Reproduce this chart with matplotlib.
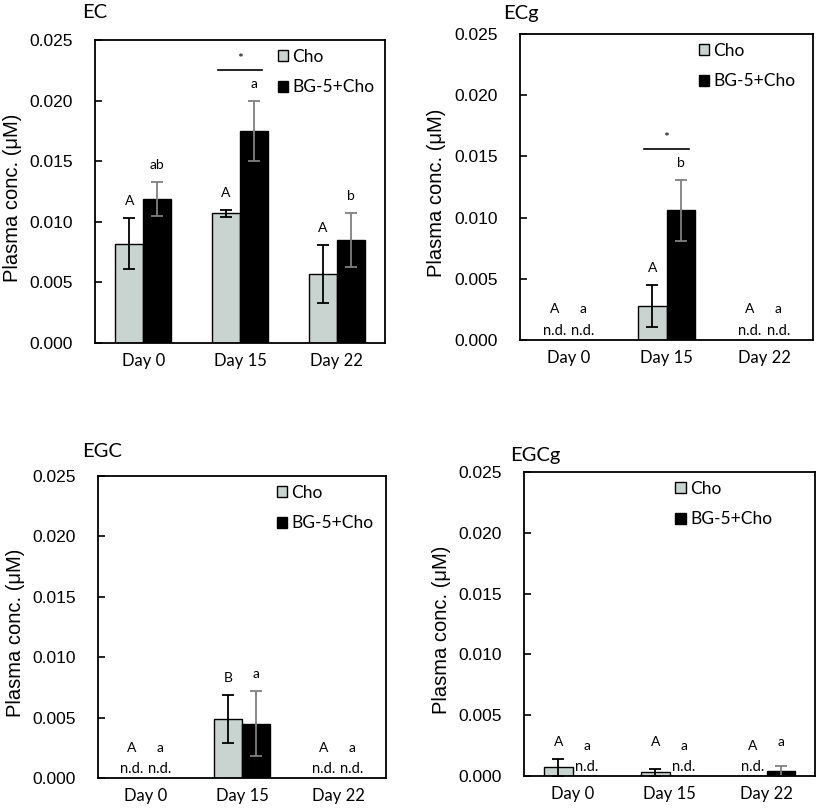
import numpy as np
import matplotlib.pyplot as plt

days = ["Day 0", "Day 15", "Day 22"]
series = ["Cho", "BG-5+Cho"]

# EC
ec_cho = [0.0082, 0.0107, 0.0057]
ec_cho_err = [0.0021, 0.0003, 0.0024]
ec_bg = [0.0119, 0.0175, 0.0085]
ec_bg_err = [0.0014, 0.0025, 0.0022]
ec_cho_let = ["A", "A", "A"]
ec_bg_let = ["ab", "a", "b"]

# ECg
ecg_cho = [0.0, 0.0028, 0.0]
ecg_cho_err = [0.0, 0.0017, 0.0]
ecg_bg = [0.0, 0.0106, 0.0]
ecg_bg_err = [0.0, 0.0025, 0.0]
ecg_cho_let = ["A", "A", "A"]
ecg_bg_let = ["a", "b", "a"]

# EGC
egc_cho = [0.0, 0.0049, 0.0]
egc_cho_err = [0.0, 0.0020, 0.0]
egc_bg = [0.0, 0.0045, 0.0]
egc_bg_err = [0.0, 0.0027, 0.0]
egc_cho_let = ["A", "B", "A"]
egc_bg_let = ["a", "a", "a"]

# EGCg
egcg_cho = [0.0007, 0.0003, 0.0]
egcg_cho_err = [0.0007, 0.0003, 0.0]
egcg_bg = [0.0, 0.0, 0.00044]
egcg_bg_err = [0.0, 0.0, 0.0004]
egcg_cho_let = ["A", "A", "A"]
egcg_bg_let = ["a", "a", "a"]

# not detected flags (True = n.d.)
ec_nd = [[False] * 3, [False] * 3]
ecg_nd = [[True, False, True], [True, False, True]]
egc_nd = [[True, False, True], [True, False, True]]
egcg_nd = [[False, False, True], [True, True, False]]

# significance (day index, y)
ec_sig = (1, 0.0225)
ecg_sig = (1, 0.0156)

W, H = 817, 809
fig = plt.figure(figsize=(W / 100, H / 100), dpi=100)
cho_color = "#C9D3D0"
bg_color = "black"
txt_font = "Lato"
num_font = "Liberation Sans"

# name, axes box (px: left, top, width, height), title pos (px), legend x (axes frac)
panels = [
    ("EC", (95, 40, 290, 303), (82, 13), 0.60, ec_cho, ec_cho_err, ec_bg, ec_bg_err,
     ec_cho_let, ec_bg_let, ec_nd, ec_sig),
    ("ECg", (520, 34, 293, 306), (503, 13), 0.58, ecg_cho, ecg_cho_err, ecg_bg, ecg_bg_err,
     ecg_cho_let, ecg_bg_let, ecg_nd, ecg_sig),
    ("EGC", (98, 476, 288, 302), (82, 452), 0.59, egc_cho, egc_cho_err, egc_bg, egc_bg_err,
     egc_cho_let, egc_bg_let, egc_nd, None),
    ("EGCg", (524, 472, 291, 304), (510, 455), 0.49, egcg_cho, egcg_cho_err, egcg_bg,
     egcg_bg_err, egcg_cho_let, egcg_bg_let, egcg_nd, None),
]

x = np.arange(len(days))
bw = 0.29

for (name, box, tpos, legx, cho, cho_e, bg, bg_e, cho_l, bg_l, nd, sig) in panels:
    l, t, w, h = box
    ax = fig.add_axes([l / W, 1 - (t + h) / H, w / W, h / H])
    cho_e_plot = [e if e > 0 else np.nan for e in cho_e]
    bg_e_plot = [e if e > 0 else np.nan for e in bg_e]
    ax.bar(x - bw / 2, cho, bw, color=cho_color, edgecolor="black", linewidth=1.0,
           label=series[0], yerr=cho_e_plot,
           error_kw=dict(ecolor="black", elinewidth=1.3, capsize=4, capthick=1.3))
    ax.bar(x + bw / 2, bg, bw, color=bg_color, edgecolor="black", linewidth=1.0,
           label=series[1], yerr=bg_e_plot,
           error_kw=dict(ecolor="#808080", elinewidth=1.3, capsize=4, capthick=1.3))

    # group letters and n.d. marks
    for i in range(len(days)):
        for j, (vals, errs, lets) in enumerate([(cho, cho_e, cho_l), (bg, bg_e, bg_l)]):
            xc = x[i] + (j - 0.5) * bw
            if nd[j][i]:
                ax.text(xc, 0.00075, "n.d.", ha="center", va="center",
                        fontsize=10.5, family=txt_font)
                ax.text(xc, 0.0025, lets[i], ha="center", va="center",
                        fontsize=10, family=txt_font)
            else:
                top = vals[i] + errs[i]
                ax.text(xc, max(top + 0.0014, 0.0028), lets[i], ha="center",
                        va="center", fontsize=10, family=txt_font)

    if sig is not None:
        di, sy = sig
        ax.plot([x[di] - 0.23, x[di] + 0.23], [sy, sy], color="black", lw=1.2)
        ax.text(x[di], sy + 0.0009, "*", ha="center", va="center", fontsize=10,
                family=txt_font)

    ax.set_xlim(-0.5, 2.5)
    ax.set_ylim(0, 0.025)
    ax.set_yticks(np.arange(0, 0.0251, 0.005))
    ax.set_yticklabels([f"{v:.3f}" for v in np.arange(0, 0.0251, 0.005)],
                       family=num_font, fontsize=12.5)
    ax.set_xticks(x)
    ax.set_xticklabels(days, family=txt_font, fontsize=12)
    ax.tick_params(axis="x", length=0, pad=7)
    ax.tick_params(axis="y", direction="in", length=5, width=1.2, pad=16)
    for s in ax.spines.values():
        s.set_linewidth(1.3)
    ax.set_ylabel("Plasma conc. (\u03bcM)", family=num_font, fontsize=14.5)
    ax.yaxis.set_label_coords(-0.252, 0.48)
    ax.legend(loc="upper left", bbox_to_anchor=(legx, 1.0), frameon=False,
              prop=dict(family=txt_font, size=12.5),
              handlelength=0.6, handleheight=0.6, handletextpad=0.25,
              labelspacing=0.85, borderaxespad=0.0, borderpad=0.5)
    fig.text(tpos[0] / W, 1 - tpos[1] / H, name, family=txt_font, fontsize=14.5,
             ha="left", va="center")

fig.savefig("out.png", dpi=100)
